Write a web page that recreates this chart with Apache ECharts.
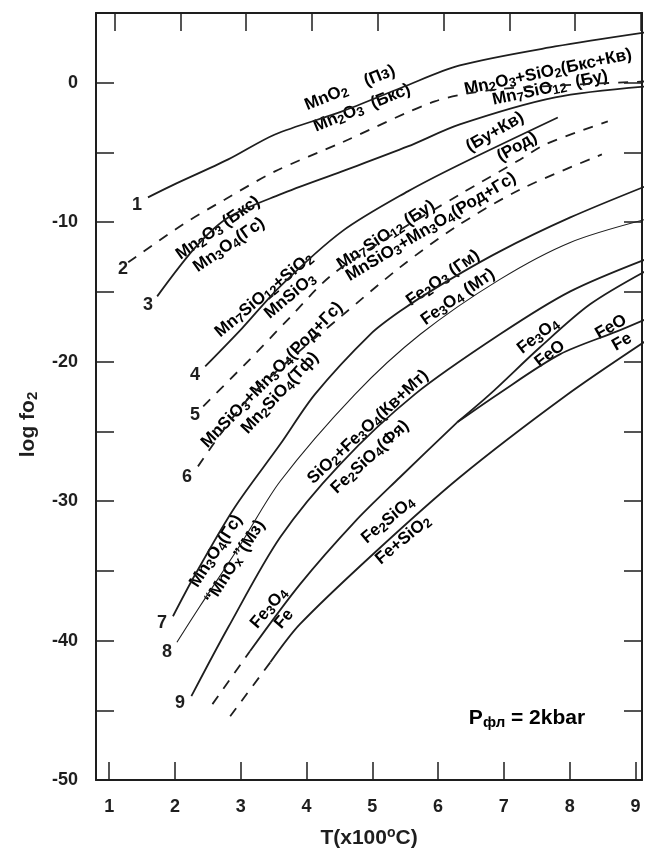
<!DOCTYPE html>
<html><head><meta charset="utf-8">
<script src="https://cdn.jsdelivr.net/npm/echarts@6/dist/echarts.min.js"></script>
<style>html,body{margin:0;padding:0;background:#fff}#c{width:645px;height:849px}</style>
</head><body><div id="c"></div>
<script>
// ---- axis ticks ----
const xTicks = [1,2,3,4,5,6,7,8,9];
const yMin = -50, yMax = 5, yStep = 5;

// ---- curves: [T(x100 C), log fO2] ----
const line1 = [[1.59,-8.22],[1.96,-7.36],[2.81,-5.50],[3.52,-3.71],[4.54,-2.06],[5.45,-0.34],[6.33,1.24],[7.78,2.60],[9.15,3.61]];
const line2 = [[1.29,-12.88],[2.12,-10.16],[2.76,-8.37],[3.52,-6.36],[4.54,-4.28],[5.95,-1.34],[6.76,-0.55],[7.85,-0.19],[9.15,0.09]];
const line3 = [[1.73,-15.32],[2.31,-11.81],[2.81,-9.66],[3.60,-8.01],[4.54,-6.36],[5.54,-4.57],[6.33,-2.99],[7.78,-1.05],[9.15,-0.27]];
const line4 = [[2.46,-20.34],[3.02,-17.61],[3.60,-14.60],[4.54,-10.66],[5.54,-7.79],[6.33,-5.86],[7.82,-2.49]];
const line5 = [[2.43,-23.20],[3.14,-19.83],[3.75,-16.82],[4.36,-13.88],[5.19,-11.23],[6.33,-8.01],[7.25,-5.50],[7.63,-4.42],[8.58,-2.77]];
const line6 = [[2.35,-27.51],[3.04,-23.05],[3.75,-19.83],[4.51,-16.82],[5.42,-13.24],[6.26,-10.37],[7.25,-7.65],[8.49,-5.14]];
const line7 = [[1.97,-38.26],[2.31,-35.25],[2.91,-30.44],[3.60,-25.93],[4.13,-22.33],[4.97,-18.04],[5.42,-16.39],[6.03,-14.53],[6.94,-12.09],[8.01,-9.66],[9.15,-7.43]];
const line8 = [[2.03,-40.12],[2.38,-37.54],[2.99,-33.17],[3.60,-28.58],[4.74,-22.33],[5.73,-18.04],[6.94,-14.10],[8.01,-11.45],[9.15,-9.80]];
const line9 = [[2.25,-43.99],[2.81,-39.05],[3.60,-32.59],[4.51,-27.36],[5.65,-22.33],[6.94,-18.04],[8.01,-14.96],[9.15,-12.67]];
const mtFeDashed = [[2.57,-44.56],[3.14,-40.77]];
const mtFe = [[3.14,-40.77],[3.90,-35.97],[4.74,-31.45],[5.42,-28.29],[6.29,-24.35]];
const mtWus = [[6.29,-24.35],[6.79,-22.33],[7.55,-18.97],[8.31,-15.89],[9.15,-13.52]];
const wusFe = [[6.29,-24.35],[6.91,-22.33],[7.85,-19.48],[8.72,-17.83],[9.15,-16.97]];
const fayFeDashed = [[2.84,-45.43],[3.45,-41.56]];
const fayFe = [[3.45,-41.56],[3.90,-38.83],[5.01,-33.81],[6.33,-28.29],[7.93,-22.48],[9.15,-18.54]];

// ---- text annotations: [markup, px x, px y, rotation deg] ----
const curveLabels = [
  ['MnO_{2}    (Пз)', 350, 88, 22],
  ['Mn_{2}O_{3}  (Бкс)', 362, 108, 22],
  ['Mn_{2}O_{3}+SiO_{2}(Бкс+Кв)', 548, 72, 12],
  ['Mn_{7}SiO_{12}  (Бу)', 550, 88, 12],
  ['Mn_{2}O_{3} (Бкс)', 218, 228, 35],
  ['Mn_{3}O_{4}(Гс)', 229, 245, 35],
  ['Mn_{7}SiO_{12}+SiO_{2}', 264, 295, 40],
  ['MnSiO_{3}', 290, 296, 40],
  ['Mn_{7}SiO_{12} (Бу)', 386, 235, 33],
  ['MnSiO_{3}+Mn_{3}O_{4}(Род+Гс)', 431, 227, 31],
  ['(Бу+Кв)', 495, 132, 30],
  ['(Род)', 517, 147, 30],
  ['MnSiO_{3}+Mn_{3}O_{4}(Род+Гс)', 272, 375, 46],
  ['Mn_{2}SiO_{4}(Тф)', 280, 393, 47],
  ['Fe_{2}O_{3} (Гм)', 443, 278, 35],
  ['Fe_{3}O_{4} (Мт)', 458, 297, 35],
  ['Mn_{3}O_{4}(Гс)', 216, 551, 57],
  ['“MnO_{x}”(Мз)', 235, 562, 57],
  ['SiO_{2}+Fe_{3}O_{4}(Кв+Мт)', 368, 427, 43],
  ['Fe_{2}SiO_{4}(Фя)', 370, 457, 43],
  ['Fe_{3}O_{4}', 538, 336, 38],
  ['FeO', 550, 354, 38],
  ['FeO', 611, 327, 30],
  ['Fe', 622, 342, 30],
  ['Fe_{3}O_{4}', 269, 608, 50],
  ['Fe', 284, 619, 50],
  ['Fe_{2}SiO_{4}', 388, 520, 40],
  ['Fe+SiO_{2}', 403, 540, 40]
];
const curveNumbers = [['1',137,205],['2',123,269],['3',148,305],['4',195,375],['5',195,415],['6',187,477],['7',162,623],['8',167,652],['9',180,703]];

const FONT = '"Liberation Sans", Arial, Helvetica, sans-serif';
const INK = '#1e1e1e';

function toRich(markup){
  let out = '', last = 0, m;
  const re = /_\{([^}]*)\}/g;
  while ((m = re.exec(markup))) {
    if (m.index > last) out += '{n|' + markup.slice(last, m.index) + '}';
    out += '{s|' + m[1] + '}';
    last = re.lastIndex;
  }
  if (last < markup.length) out += '{n|' + markup.slice(last) + '}';
  return out;
}
const labelRich = {
  n: {fontSize: 17, fontWeight: 'bold', fontFamily: FONT, color: INK, lineHeight: 20},
  s: {fontSize: 13, fontWeight: 'bold', fontFamily: FONT, color: INK, lineHeight: 6, verticalAlign: 'bottom'}
};

function curve(data, dashed, width){
  return {type:'line', data, smooth:0.3, showSymbol:false, symbol:'none', silent:true,
    lineStyle:{color:INK, width: width || 1.8, type: dashed ? [10,9] : 'solid'}};
}

const chart = echarts.init(document.getElementById('c'));
const axisLine = {show:true, onZero:false, lineStyle:{color:INK, width:2}};
const tickStyle = {color:INK, width:1.5};

const graphics = [];
curveLabels.forEach(([t, x, y, r]) => {
  graphics.push({type:'text', x, y, rotation: r*Math.PI/180, silent:true,
    style:{text: toRich(t), rich: labelRich, align:'center', verticalAlign:'middle', textAlign:'center', textVerticalAlign:'middle'}});
});
curveNumbers.forEach(([t, x, y]) => {
  graphics.push({type:'text', x, y, silent:true,
    style:{text:t, fontSize:18, fontWeight:'bold', fontFamily:FONT, fill:INK, align:'center', verticalAlign:'middle', textAlign:'center', textVerticalAlign:'middle'}});
});
graphics.push({type:'text', x:527, y:718, silent:true,
  style:{text:'{P|P}{f|фл}{P| = 2kbar}', align:'center', verticalAlign:'middle', textAlign:'center', textVerticalAlign:'middle',
    rich:{P:{fontSize:21, fontWeight:'bold', fontFamily:FONT, color:INK, lineHeight:24},
          f:{fontSize:15, fontWeight:'bold', fontFamily:FONT, color:INK, lineHeight:8, verticalAlign:'bottom'}}}});

chart.setOption({
  animation:false,
  backgroundColor:'#fff',
  grid:{left:96, right:3, top:13, bottom:69, containLabel:false, outerBoundsMode:'none'},
  xAxis:[
    {type:'value', min:0.8, max:9.1, position:'bottom', axisLine,
     axisTick:{inside:true, length:18, customValues:xTicks, lineStyle:tickStyle},
     axisLabel:{customValues:xTicks, fontSize:18, fontWeight:'bold', fontFamily:FONT, color:INK, margin:18},
     splitLine:{show:false},
     name:'{n|T(x100}{p|o}{n|C)}', nameLocation:'middle', nameGap:46,
     nameTextStyle:{rich:{n:{fontSize:21, fontWeight:'bold', fontFamily:FONT, color:INK, lineHeight:24},
                          p:{fontSize:14, fontWeight:'bold', fontFamily:FONT, color:INK, lineHeight:10, verticalAlign:'top'}}}},
    // top frame: the scanned original has its top ticks sitting ~5px right of the bottom ones
    {type:'value', min:0.716, max:9.016, position:'top', axisLine,
     axisTick:{inside:true, length:18, customValues:xTicks, lineStyle:tickStyle},
     axisLabel:{show:false}, splitLine:{show:false}}
  ],
  yAxis:[
    {type:'value', min:yMin, max:yMax, interval:yStep, position:'left', axisLine,
     axisTick:{inside:true, length:18, lineStyle:tickStyle},
     axisLabel:{fontSize:18, fontWeight:'bold', fontFamily:FONT, color:INK, margin:18,
                formatter: v => (v % 10 === 0 ? String(v) : '')},
     splitLine:{show:false},
     name:'{n|log fo}{s|2}', nameLocation:'middle', nameGap:56, nameRotate:90,
     nameTextStyle:{padding:[0,56,0,0], rich:{n:{fontSize:21, fontWeight:'bold', fontFamily:FONT, color:INK, lineHeight:24},
                          s:{fontSize:15, fontWeight:'bold', fontFamily:FONT, color:INK, lineHeight:8, verticalAlign:'bottom'}}}},
    {type:'value', min:yMin, max:yMax, interval:yStep, position:'right', axisLine,
     axisTick:{inside:true, length:18, lineStyle:tickStyle},
     axisLabel:{show:false}, splitLine:{show:false}}
  ],
  series:[
    curve(line1), curve(line2, true), curve(line3), curve(line4), curve(line5, true), curve(line6, true),
    curve(line7), curve(line8, false, 1.1), curve(line9),
    curve(mtFeDashed, true), curve(mtFe), curve(mtWus), curve(wusFe),
    curve(fayFeDashed, true), curve(fayFe)
  ],
  graphic:{elements: graphics}
});
</script></body></html>
